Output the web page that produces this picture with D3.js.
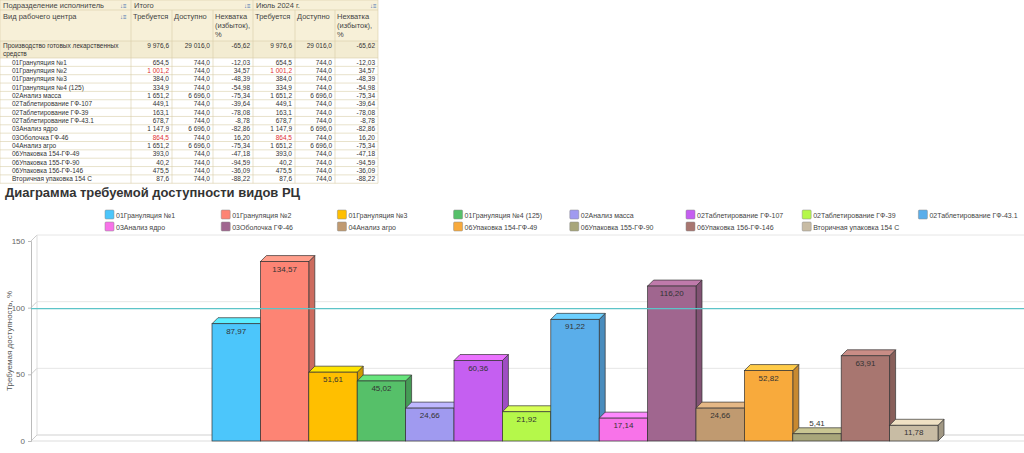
<!DOCTYPE html>
<html><head><meta charset="utf-8">
<script src="https://cdn.jsdelivr.net/npm/d3@7"></script>
<style>body{margin:0;background:#fff;font-family:Arial,"Liberation Sans",sans-serif}</style>
</head><body><svg id="c" width="1024" height="453"></svg>
<script>
const svg = d3.select('#c')

const rows = [
    ['01Грануляция №1', '654,5', '744,0', '-12,03', false],
    ['01Грануляция №2', '1 001,2', '744,0', '34,57', true],
    ['01Грануляция №3', '384,0', '744,0', '-48,39', false],
    ['01Грануляция №4 (125)', '334,9', '744,0', '-54,98', false],
    ['02Анализ масса', '1 651,2', '6 696,0', '-75,34', false],
    ['02Таблетирование ГФ-107', '449,1', '744,0', '-39,64', false],
    ['02Таблетирование ГФ-39', '163,1', '744,0', '-78,08', false],
    ['02Таблетирование ГФ-43.1', '678,7', '744,0', '-8,78', false],
    ['03Анализ ядро', '1 147,9', '6 696,0', '-82,86', false],
    ['03Оболочка ГФ-46', '864,5', '744,0', '16,20', true],
    ['04Анализ агро', '1 651,2', '6 696,0', '-75,34', false],
    ['06Упаковка 154-ГФ-49', '393,0', '744,0', '-47,18', false],
    ['06Упаковка 155-ГФ-90', '40,2', '744,0', '-94,59', false],
    ['06Упаковка 156-ГФ-146', '475,5', '744,0', '-36,09', false],
    ['Вторичная упаковка 154 С', '87,6', '744,0', '-88,22', false],
]

// table
const cols = [0, 131, 172, 213, 253, 295, 335, 378]
const beige = '#f7f0d8', line = '#d9cfa8'
const t = svg.append('g').style('font-size', '6.5px').attr('fill', '#333')
t.append('rect').attr('x', 0).attr('y', 0).attr('width', 378).attr('height', 57).attr('fill', beige)
const hdr = (x, y, s) => t.append('text').attr('x', x).attr('y', y).style('font-size', '7.5px').attr('fill', '#444').text(s)
hdr(3, 8, 'Подразделение исполнитель'); hdr(134, 8, 'Итого'); hdr(256, 8, 'Июль 2024 г.')
hdr(3, 19, 'Вид рабочего центра')
;[1, 4].forEach(o => {
    hdr(cols[o] + 2, 19, 'Требуется'); hdr(cols[o + 1] + 2, 19, 'Доступно')
    hdr(cols[o + 2] + 2, 19, 'Нехватка'); hdr(cols[o + 2] + 2, 28, '(избыток),'); hdr(cols[o + 2] + 2, 37, '%')
})
;[[120, 8], [244, 8], [370, 8], [120, 19]].forEach(([x, y]) =>
    t.append('text').attr('x', x).attr('y', y).style('font-size', '6px').attr('fill', '#3a6fb0').text('↓≡'))
t.append('rect').attr('x', 0).attr('y', 41).attr('width', 378).attr('height', 17).attr('fill', '#f3ecd2')
t.append('text').attr('x', 3).attr('y', 48).text('Производство готовых лекарственных')
t.append('text').attr('x', 3).attr('y', 56).text('средств')
;['9 976,6', '29 016,0', '-65,62', '9 976,6', '29 016,0', '-65,62'].forEach((v, i) =>
    t.append('text').attr('x', cols[i + 2] - 3).attr('y', 48).attr('text-anchor', 'end').text(v))
const rh = 8.35, y0 = 58
rows.forEach((r, i) => {
    const y = y0 + i * rh
    t.append('text').attr('x', 12).attr('y', y + 6.5).text(r[0])
    const vals = [r[1], r[2], r[3], r[1], r[2], r[3]]
    vals.forEach((v, j) => t.append('text').attr('x', cols[j + 2] - 3).attr('y', y + 6.5)
        .attr('text-anchor', 'end').attr('fill', r[4] && j % 3 === 0 ? '#e03030' : '#333').text(v))
})
const tb = y0 + rows.length * rh
d3.range(rows.length + 1).forEach(i => t.append('line').attr('x1', 0).attr('x2', 378)
    .attr('y1', y0 + i * rh).attr('y2', y0 + i * rh).attr('stroke', line).attr('stroke-width', 0.6))
;[0, 10, 41].forEach(y => t.append('line').attr('x1', 0).attr('x2', 378).attr('y1', y).attr('y2', y).attr('stroke', line).attr('stroke-width', 0.6))
cols.forEach((x, i) => t.append('line').attr('x1', x).attr('x2', x).attr('y1', i === 2 || i === 3 || i === 5 || i === 6 ? 10 : 0).attr('y2', tb).attr('stroke', line).attr('stroke-width', 0.6))

// chart
const data = [
    { name: '01Грануляция №1', value: 87.97, color: '#4cc6fb' },
    { name: '01Грануляция №2', value: 134.57, color: '#fd8474' },
    { name: '01Грануляция №3', value: 51.61, color: '#ffbf00' },
    { name: '01Грануляция №4 (125)', value: 45.02, color: '#56c069' },
    { name: '02Анализ масса', value: 24.66, color: '#a09af0' },
    { name: '02Таблетирование ГФ-107', value: 60.36, color: '#c55ff1' },
    { name: '02Таблетирование ГФ-39', value: 21.92, color: '#b5f84a' },
    { name: '02Таблетирование ГФ-43.1', value: 91.22, color: '#5aaeea' },
    { name: '03Анализ ядро', value: 17.14, color: '#f873e9' },
    { name: '03Оболочка ГФ-46', value: 116.2, color: '#a0668f' },
    { name: '04Анализ агро', value: 24.66, color: '#c09a70' },
    { name: '06Упаковка 154-ГФ-49', value: 52.82, color: '#f8aa3c' },
    { name: '06Упаковка 155-ГФ-90', value: 5.41, color: '#a8a67a' },
    { name: '06Упаковка 156-ГФ-146', value: 63.91, color: '#a87670' },
    { name: 'Вторичная упаковка 154 С', value: 11.78, color: '#c8bca4' },
]

svg.append('text').attr('x', 5).attr('y', 197).style('font-size', '13px').style('font-weight', 'bold')
    .attr('fill', '#333').text('Диаграмма требуемой доступности видов РЦ')

const lg = svg.append('g').style('font-size', '7px').attr('fill', '#444')
data.forEach((d, i) => {
    const x = 105 + (i % 8) * 116.2, y = 210 + Math.floor(i / 8) * 12
    lg.append('rect').attr('x', x).attr('y', y).attr('width', 9).attr('height', 9).attr('rx', 1)
        .attr('fill', d.color).attr('stroke', '#888').attr('stroke-width', 0.5)
    lg.append('text').attr('x', x + 11).attr('y', y + 7.5).text(d.name)
})

const dx = 6, dy = 6
const y = d3.scaleLinear().domain([0, 150]).range([441, 241])
const x = d3.scaleBand().domain(data.map(d => d.name)).range([212, 938])
const darker = c => d3.color(c).darker(0.6)
const brighter = c => d3.color(c).brighter(0.5)

const g = svg.append('g')
y.ticks(3).forEach(v => {
    g.append('line').attr('x1', 31 + dx).attr('x2', 1024).attr('y1', y(v) - dy).attr('y2', y(v) - dy).attr('stroke', '#e6e6e6')
    g.append('line').attr('x1', 31).attr('x2', 31 + dx).attr('y1', y(v)).attr('y2', y(v) - dy).attr('stroke', '#ccc')
})
g.append('line').attr('x1', 31 + dx).attr('x2', 31 + dx).attr('y1', 241 - dy).attr('y2', 441 - dy).attr('stroke', '#ddd')
g.append('line').attr('x1', 31 + dx).attr('x2', 1024).attr('y1', 441 - dy).attr('y2', 441 - dy).attr('stroke', '#ddd')
g.append('line').attr('x1', 31).attr('x2', 1024).attr('y1', 441).attr('y2', 441).attr('stroke', '#ddd')

const ax = svg.append('g').attr('transform', 'translate(31,0)')
    .call(d3.axisLeft(y).tickValues([0, 50, 100, 150]).tickSize(3))
ax.select('.domain').attr('stroke', '#bbb')
ax.selectAll('.tick line').attr('stroke', '#bbb')
ax.selectAll('text').style('font-size', '8px').attr('fill', '#666').style('font-family', 'Arial')

svg.append('text').attr('transform', 'translate(12,' + y(75) + ') rotate(-90)').attr('text-anchor', 'middle')
    .style('font-size', '8px').attr('fill', '#555').text('Требуемая доступность, %')

const bars = g.selectAll('.bar').data(data).join('g').attr('class', 'bar')
bars.each(function(d) {
    const el = d3.select(this)
    const x0 = x(d.name), w = x.bandwidth(), yt = y(d.value), yb = y(0)
    el.append('path').attr('d', `M${x0 + w},${yb}L${x0 + w + dx},${yb - dy}L${x0 + w + dx},${yt - dy}L${x0 + w},${yt}Z`)
        .attr('fill', darker(d.color)).attr('stroke', '#333').attr('stroke-width', 0.7)
    el.append('path').attr('d', `M${x0},${yt}L${x0 + dx},${yt - dy}L${x0 + w + dx},${yt - dy}L${x0 + w},${yt}Z`)
        .attr('fill', brighter(d.color)).attr('stroke', '#333').attr('stroke-width', 0.7)
    el.append('rect').attr('x', x0).attr('y', yt).attr('width', w).attr('height', yb - yt)
        .attr('fill', d.color).attr('stroke', '#333').attr('stroke-width', 0.7)
    const inside = yb - yt > 14
    el.append('text').attr('x', x0 + w / 2).attr('y', inside ? yt + 10 : yt - dy - 2)
        .attr('text-anchor', 'middle').style('font-size', '8px').attr('fill', '#333')
        .text(d3.format('.2f')(d.value).replace('.', ','))
})

svg.append('line').attr('x1', 31).attr('x2', 1024).attr('y1', y(100) + 1).attr('y2', y(100) + 1)
    .attr('stroke', '#5cc4c8').attr('stroke-width', 1.2)
</script></body></html>
